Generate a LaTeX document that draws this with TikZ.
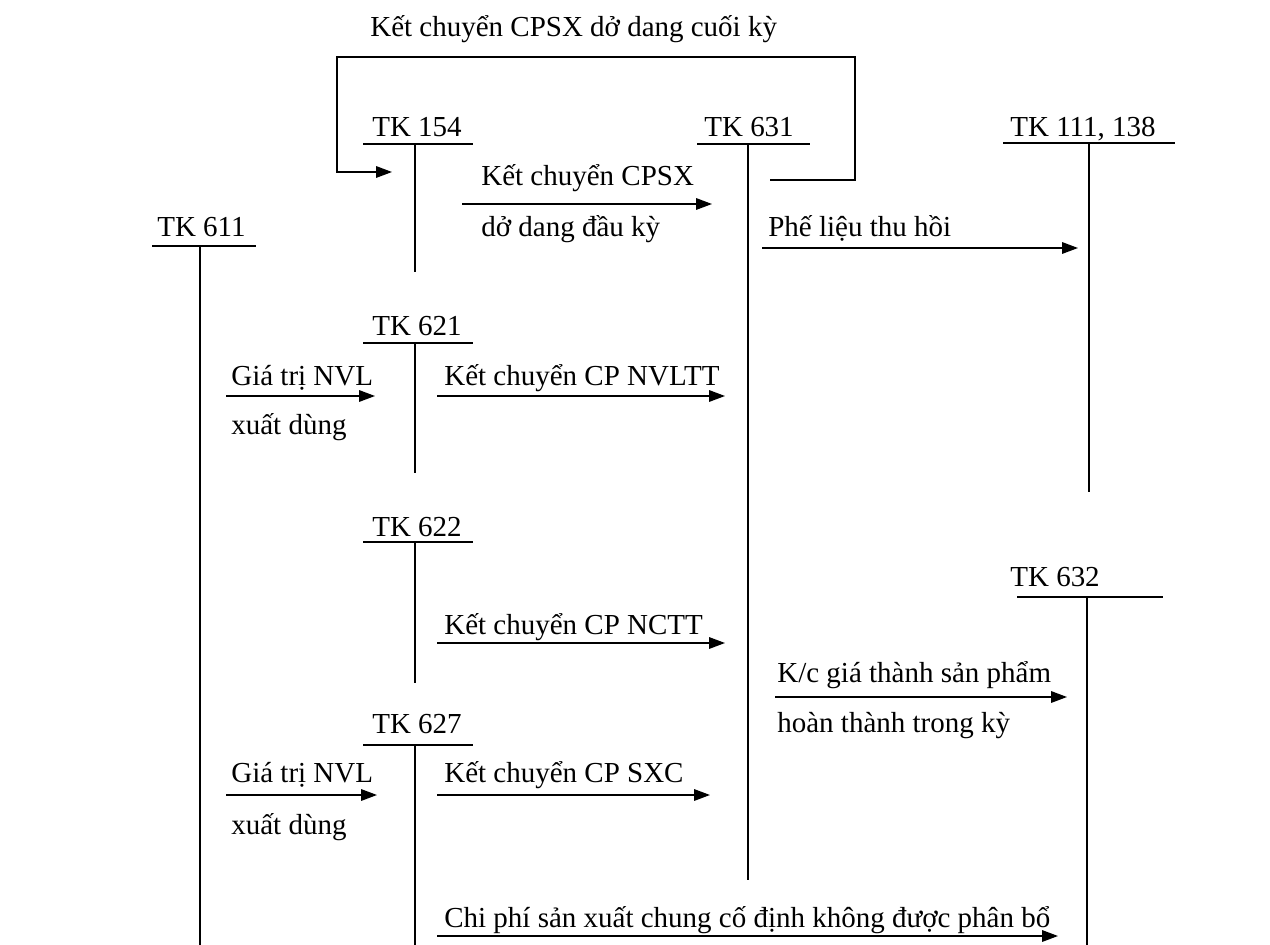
\documentclass[tikz,border=0pt]{standalone}
\usepackage{fontspec}
\setmainfont{Liberation Serif}
\usetikzlibrary{arrows.meta}
\begin{document}
\begin{tikzpicture}[x=0.02cm,y=-0.02cm,
  txt/.style={font=\fontsize{16.5pt}{20pt}\selectfont, inner sep=0pt, anchor=base west},
  acct/.style={line width=0.9pt},
  arr/.style={line width=0.9pt,-{Triangle[length=9pt,width=6.5pt]}},
  plain/.style={line width=0.9pt}]
\useasboundingbox (0,0) rectangle (1270,945);

% title
\node[txt] (title) at (370,37) {Kết chuyển CPSX dở dang cuối kỳ};

% T accounts
\node[txt] (t154) at (372,137) {TK 154};
\coordinate (u154l) at (363,144); \coordinate (u154r) at (473,144);
\coordinate (v154t) at (415,144); \coordinate (v154b) at (415,272);
\draw[acct] (u154l) -- (u154r); \draw[acct] (v154t) -- (v154b);

\node[txt] (t631) at (704,137) {TK 631};
\coordinate (u631l) at (697,144); \coordinate (u631r) at (810,144);
\coordinate (v631t) at (748,144); \coordinate (v631b) at (748,880);
\draw[acct] (u631l) -- (u631r); \draw[acct] (v631t) -- (v631b);

\node[txt] (t111) at (1010,137) {TK 111, 138};
\coordinate (u111l) at (1003,143); \coordinate (u111r) at (1175,143);
\coordinate (v111t) at (1089,143); \coordinate (v111b) at (1089,492);
\draw[acct] (u111l) -- (u111r); \draw[acct] (v111t) -- (v111b);

\node[txt] (t611) at (157,237) {TK 611};
\coordinate (u611l) at (152,246); \coordinate (u611r) at (256,246);
\coordinate (v611t) at (200,246); \coordinate (v611b) at (200,945);
\draw[acct] (u611l) -- (u611r); \draw[acct] (v611t) -- (v611b);

\node[txt] (t621) at (372,336) {TK 621};
\coordinate (u621l) at (363,343); \coordinate (u621r) at (473,343);
\coordinate (v621t) at (415,343); \coordinate (v621b) at (415,473);
\draw[acct] (u621l) -- (u621r); \draw[acct] (v621t) -- (v621b);

\node[txt] (t622) at (372,536) {TK 622};
\coordinate (u622l) at (363,542); \coordinate (u622r) at (473,542);
\coordinate (v622t) at (415,542); \coordinate (v622b) at (415,683);
\draw[acct] (u622l) -- (u622r); \draw[acct] (v622t) -- (v622b);

\node[txt] (t632) at (1010,586) {TK 632};
\coordinate (u632l) at (1017,597); \coordinate (u632r) at (1163,597);
\coordinate (v632t) at (1087,597); \coordinate (v632b) at (1087,945);
\draw[acct] (u632l) -- (u632r); \draw[acct] (v632t) -- (v632b);

\node[txt] (t627) at (372,733) {TK 627};
\coordinate (u627l) at (363,745); \coordinate (u627r) at (473,745);
\coordinate (v627t) at (415,745); \coordinate (v627b) at (415,945);
\draw[acct] (u627l) -- (u627r); \draw[acct] (v627t) -- (v627b);

% closing bracket: TK 631 -> TK 154
\coordinate (bs) at (770,180);
\coordinate (be) at (392,172);
\draw[arr] (bs) -- (855,180) -- (855,57) -- (337,57) -- (337,172) -- (be);

% Kết chuyển CPSX dở dang đầu kỳ
\coordinate (a1s) at (462,204); \coordinate (a1e) at (712,204);
\draw[arr] (a1s) -- (a1e);
\node[txt] (l1a) at (481,186) {Kết chuyển CPSX};
\node[txt] (l1b) at (481,237) {dở dang đầu kỳ};

% Phế liệu thu hồi
\coordinate (a2s) at (762,248); \coordinate (a2e) at (1078,248);
\draw[arr] (a2s) -- (a2e);
\node[txt] (l2) at (768,237) {Phế liệu thu hồi};

% Giá trị NVL (621)
\coordinate (a3s) at (226,396); \coordinate (a3e) at (375,396);
\draw[arr] (a3s) -- (a3e);
\node[txt] (l3a) at (231,386) {Giá trị NVL};
\node[txt] (l3b) at (231,435) {xuất dùng};

% Kết chuyển CP NVLTT
\coordinate (a4s) at (437,396); \coordinate (a4e) at (725,396);
\draw[arr] (a4s) -- (a4e);
\node[txt] (l4) at (444,386) {Kết chuyển CP NVLTT};

% Kết chuyển CP NCTT
\coordinate (a5s) at (437,643); \coordinate (a5e) at (725,643);
\draw[arr] (a5s) -- (a5e);
\node[txt] (l5) at (444,634) {Kết chuyển CP NCTT};

% K/c giá thành
\coordinate (a6s) at (775,697); \coordinate (a6e) at (1067,697);
\draw[arr] (a6s) -- (a6e);
\node[txt] (l6a) at (777,682) {K/c giá thành sản phẩm};
\node[txt] (l6b) at (777,732) {hoàn thành trong kỳ};

% Giá trị NVL (627)
\coordinate (a7s) at (226,795); \coordinate (a7e) at (377,795);
\draw[arr] (a7s) -- (a7e);
\node[txt] (l7a) at (231,782) {Giá trị NVL};
\node[txt] (l7b) at (231,834) {xuất dùng};

% Kết chuyển CP SXC
\coordinate (a8s) at (437,795); \coordinate (a8e) at (710,795);
\draw[arr] (a8s) -- (a8e);
\node[txt] (l8) at (444,782) {Kết chuyển CP SXC};

% Chi phí SXC cố định không được phân bổ
\coordinate (a9s) at (437,936); \coordinate (a9e) at (1058,936);
\draw[arr] (a9s) -- (a9e);
\node[txt] (l9) at (444,927) {Chi phí sản xuất chung cố định không được phân bổ};
\end{tikzpicture}
\end{document}
